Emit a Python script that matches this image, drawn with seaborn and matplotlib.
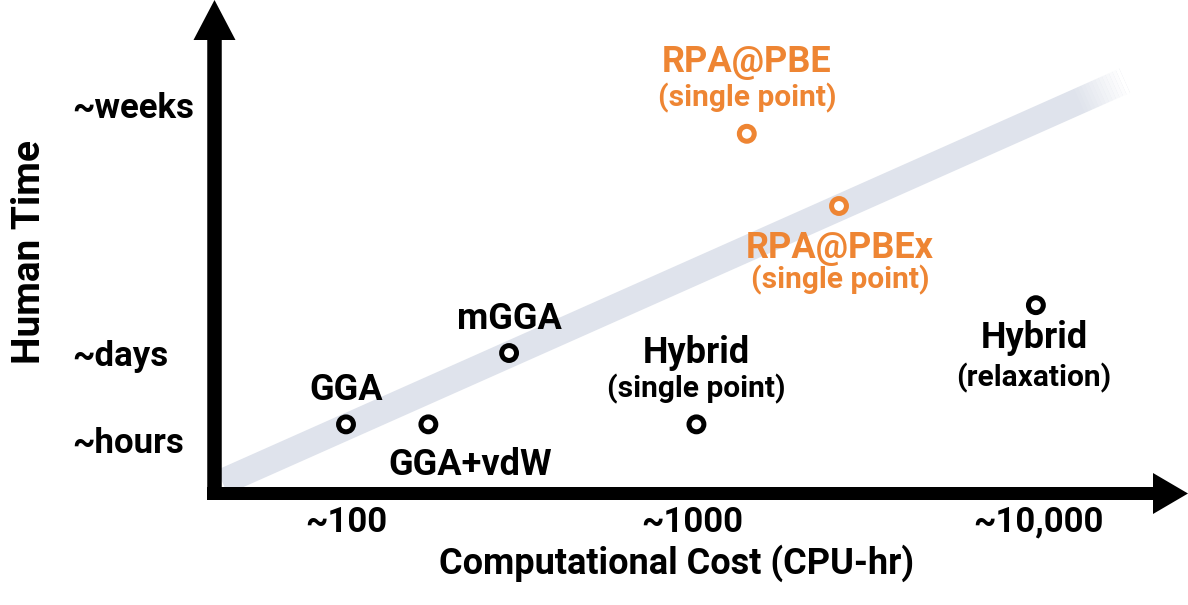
import numpy as np
import pandas as pd
import seaborn as sns
import matplotlib.pyplot as plt
from matplotlib.patches import FancyArrow
from matplotlib.ticker import NullLocator

# values (x: CPU-hr, y: relative human-time level)
methods = ['GGA', 'GGA+vdW', 'mGGA', 'Hybrid', 'Hybrid', 'RPA@PBE', 'RPA@PBEx']
sublabels = ['', '', '', '(single point)', '(relaxation)', '(single point)', '(single point)']
cpu_hours = [100, 173, 296, 1030, 9860, 1440, 2660]
human_time = [1.18, 1.18, 2.0, 1.18, 2.55, 4.52, 3.69]
group = ['DFT', 'DFT', 'DFT', 'DFT', 'DFT', 'RPA', 'RPA']

x_ticks = [100, 1000, 10000]
x_tick_labels = ['~100', '~1000', '~10,000']
y_ticks = [1.0, 2.0, 4.85]
y_tick_labels = ['~hours', '~days', '~weeks']

trend_cost = [43.9, 17800]
trend_time = [0.517, 5.13]

ORANGE = '#EE8533'
BAND = '#DFE3EC'

# label offsets in pixels (dx, dy) from each point
main_off = [(0, 24), (42, -51), (0, 24), (0, 61), (-2, -43), (0, 62), (1, -52)]
sub_off = [None, None, None, (0, 27), (-2, -81), (0, 27), (1, -82)]

df = pd.DataFrame({'method': methods, 'cost': cpu_hours, 'time': human_time, 'group': group})

sns.set_style('white')
plt.rcParams['font.family'] = ['Roboto', 'DejaVu Sans']
plt.rcParams['font.weight'] = 'bold'
plt.rcParams['text.color'] = 'black'
plt.rcParams['axes.labelcolor'] = 'black'
plt.rcParams['xtick.color'] = 'black'
plt.rcParams['ytick.color'] = 'black'

fig = plt.figure(figsize=(11.88, 6.05), dpi=100)
ax = fig.add_axes([213 / 1188, 112 / 605, 947 / 1188, 473 / 605])

ax.set_xscale('log')
ax.set_xlim(10 ** 1.6156, 10 ** 4.3526)
ax.set_ylim(0.391, 5.828)

# trend band
sns.lineplot(x=trend_cost, y=trend_time, ax=ax, color=BAND, lw=19,
             solid_capstyle='butt', zorder=1)
# fade out the end of the band
lx0, lx1 = np.log10(trend_cost)
t = np.linspace(0.95, 1.0, 14)
for i in range(len(t) - 1):
    xs = 10 ** (lx0 + (lx1 - lx0) * t[i:i + 2])
    ys = trend_time[0] + (trend_time[1] - trend_time[0]) * t[i:i + 2]
    ax.plot(xs, ys, color='white', alpha=(i + 1) / (len(t) - 1), lw=20,
            solid_capstyle='butt', zorder=1.5)

sns.scatterplot(data=df, x='cost', y='time', hue='group',
                palette={'DFT': 'black', 'RPA': ORANGE}, s=115, linewidth=3.6,
                legend=False, ax=ax, zorder=3)
pts = ax.collections[-1]
pts.set_edgecolors(pts.get_facecolors().copy())
pts.set_facecolors('white')

for i, m in enumerate(methods):
    c = ORANGE if group[i] == 'RPA' else 'black'
    ax.annotate(m, (cpu_hours[i], human_time[i]), xytext=main_off[i],
                textcoords='offset pixels', ha='center', va='baseline',
                fontsize=26, fontweight='bold', color=c)
    if sublabels[i]:
        ax.annotate(sublabels[i], (cpu_hours[i], human_time[i]), xytext=sub_off[i],
                    textcoords='offset pixels', ha='center', va='baseline',
                    fontsize=21.5, fontweight='bold', color=c)

ax.set_xticks(x_ticks)
ax.set_xticklabels(x_tick_labels, fontsize=25, fontweight='bold')
ax.xaxis.set_minor_locator(NullLocator())
ax.set_yticks(y_ticks)
ax.set_yticklabels(y_tick_labels, fontsize=25, fontweight='bold')
for lab in ax.get_yticklabels():
    lab.set_ha('left')
ax.tick_params(axis='both', length=0)
ax.tick_params(axis='x', pad=9)
ax.tick_params(axis='y', pad=101)

ax.set_xlabel('Computational Cost (CPU-hr)', fontsize=26, fontweight='bold')
ax.xaxis.set_label_coords(0.49, -0.108)
ax.set_ylabel('Human Time', fontsize=28, fontweight='bold')
ax.yaxis.set_label_coords(-0.174, 0.51)

for s in ax.spines.values():
    s.set_visible(False)

# axis arrows (inches from figure bottom-left)
fig.add_artist(FancyArrow(2.145, 1.05, 0, 5.0, width=0.145, head_width=0.42,
                          head_length=0.40, length_includes_head=True,
                          transform=fig.dpi_scale_trans, color='black', lw=0))
fig.add_artist(FancyArrow(2.07, 1.115, 9.81, 0, width=0.13, head_width=0.41,
                          head_length=0.35, length_includes_head=True,
                          transform=fig.dpi_scale_trans, color='black', lw=0))

fig.savefig('out.png', dpi=100)
